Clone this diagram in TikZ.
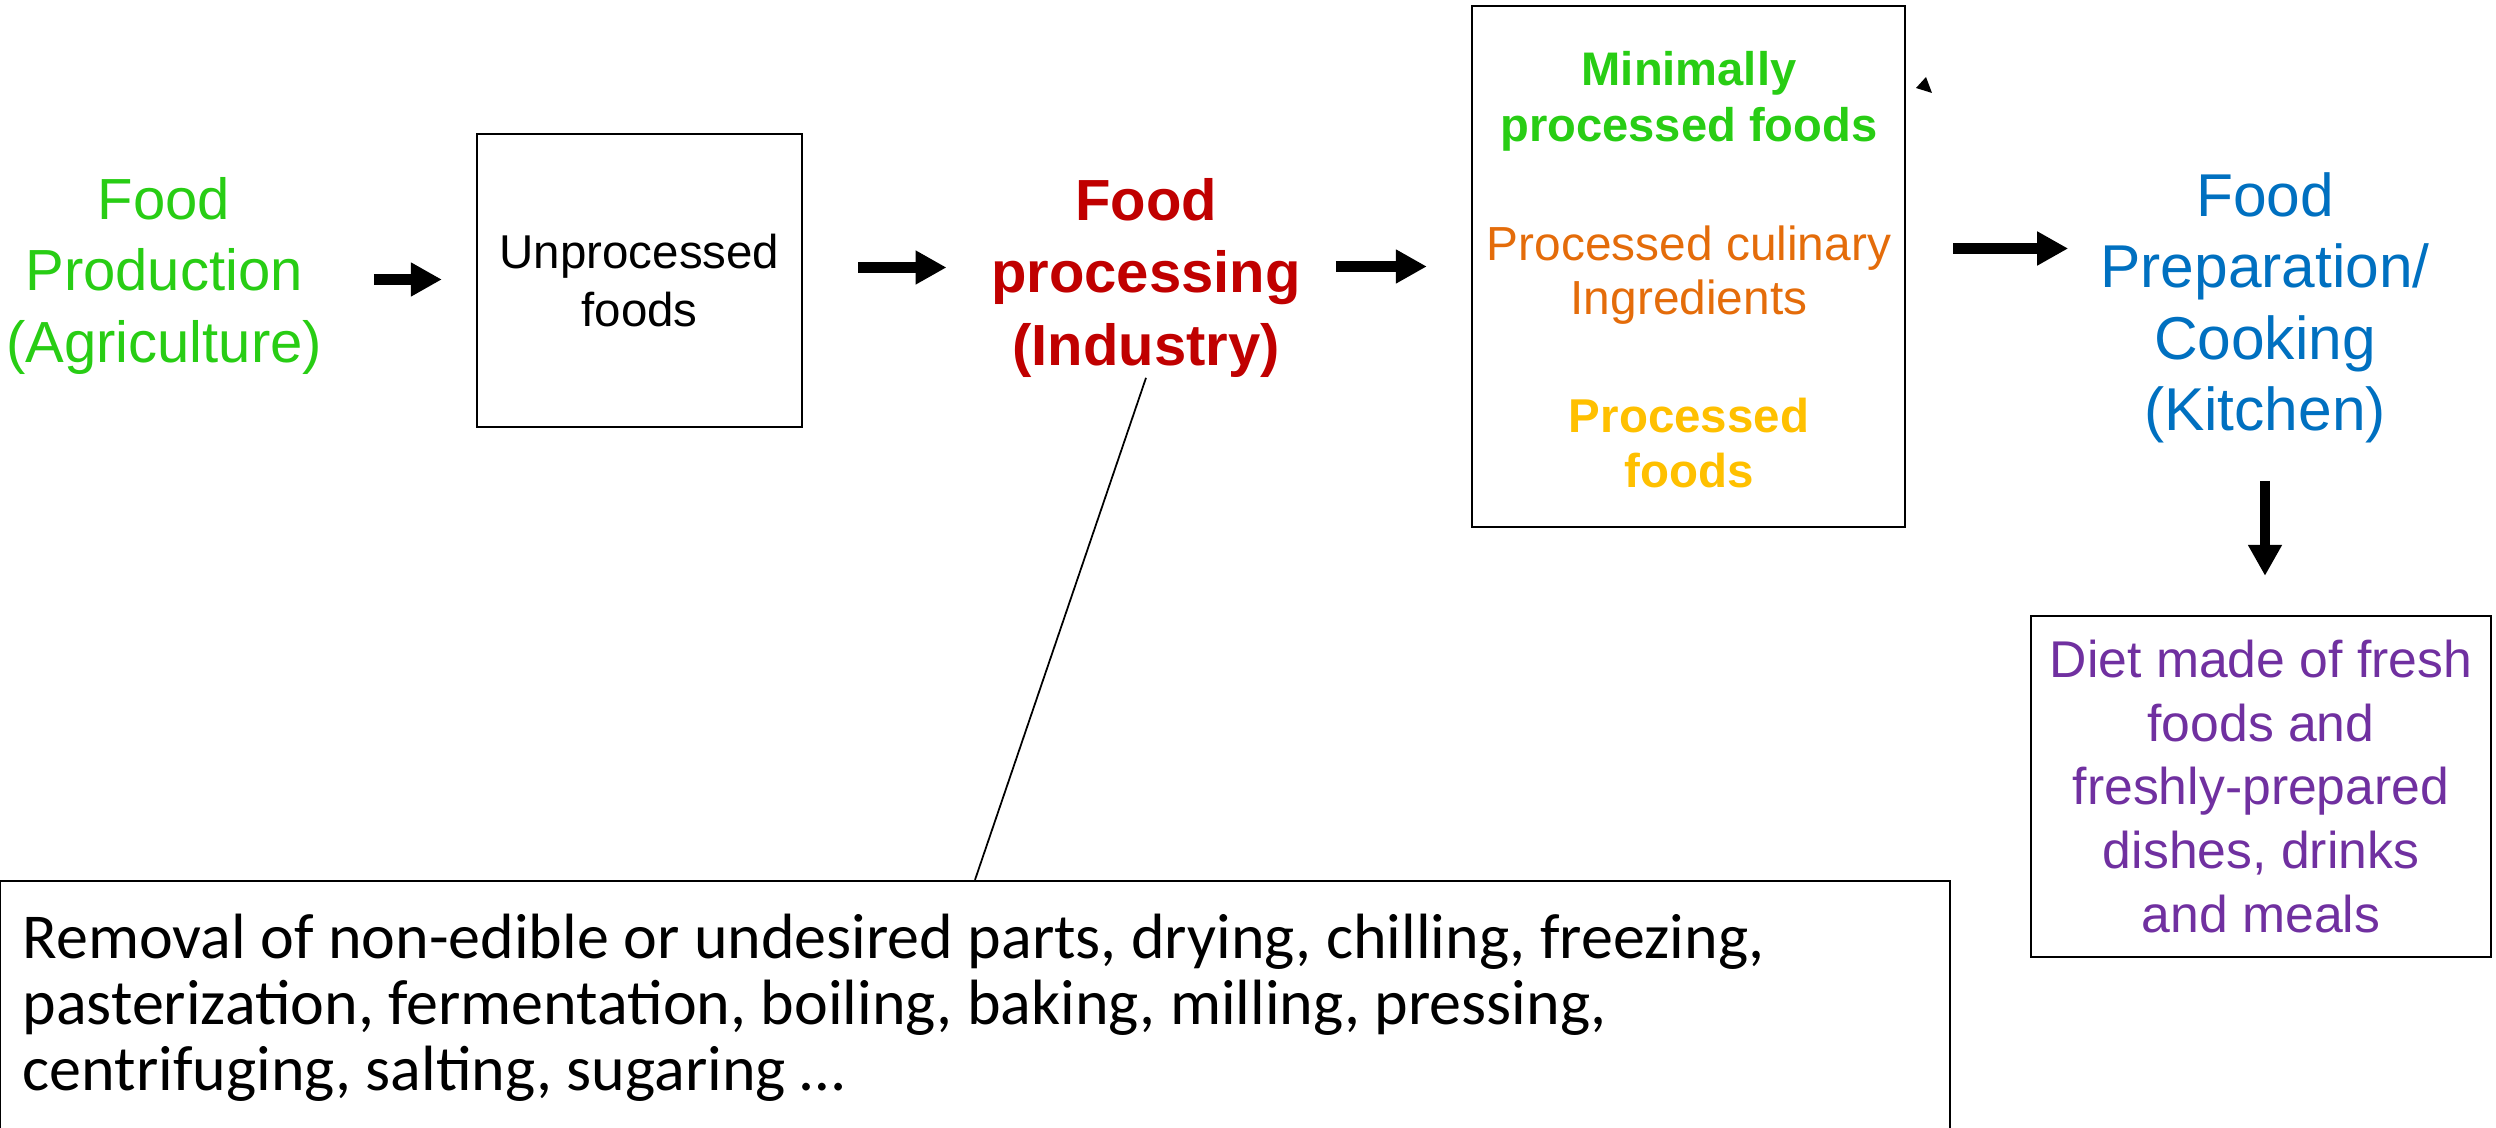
\documentclass[tikz,border=0pt]{standalone}
\usepackage{fontspec}
\setmainfont{Liberation Sans}
\newfontfamily\calibri{Carlito}
\usetikzlibrary{arrows.meta,calc}

\definecolor{agrigreen}{RGB}{40,205,20}
\definecolor{indred}{RGB}{192,0,0}
\definecolor{culorange}{RGB}{228,108,10}
\definecolor{procyellow}{RGB}{255,192,0}
\definecolor{kitblue}{RGB}{0,112,192}
\definecolor{dietpurple}{RGB}{112,48,160}

\tikzset{
  box/.style={draw, line width=0.6pt, inner sep=0pt},
  label/.style={align=center, inner sep=0pt},
  blockarrow/.style={line width=3.1pt, -{Triangle[length=3.1mm,width=3.2mm]}},
}

\begin{document}
\begin{tikzpicture}[x=0.01cm, y=-0.01cm]
    \useasboundingbox (0,0) rectangle (2496,1128);
    % Stages
    \node[label, agrigreen, font=\fontsize{16.5}{20.2}\selectfont] (agri) at (164,276)
      {Food\\Production\\(Agriculture)};
    \node[box, label, minimum width=3.25cm, minimum height=2.93cm,
      font=\fontsize{13.5}{16.4}\selectfont] (unproc) at (639.5,280.5) {Unprocessed\\foods};
    \node[label, indred, font=\bfseries\fontsize{16.5}{20.5}\selectfont] (fproc) at (1146,278)
      {Food\\processing\\(Industry)};
    \node[box, minimum width=4.33cm, minimum height=5.21cm] (outputs) at (1688.5,266.5) {};
    \node[label, agrigreen, font=\bfseries\fontsize{13.4}{15.9}\selectfont] (minproc) at (1689,101)
      {Minimally\\processed foods};
    \node[label, culorange, font=\fontsize{13.6}{15.4}\selectfont] (culinary) at (1689,275)
      {Processed culinary\\Ingredients};
    \node[label, procyellow, font=\bfseries\fontsize{13.5}{15.9}\selectfont] (processed) at (1689,443)
      {Processed\\foods};
    \node[label, kitblue, font=\fontsize{17.2}{20.3}\selectfont] (prep) at (2265,308)
      {Food\\Preparation/\\Cooking\\(Kitchen)};
    \node[box, label, text=dietpurple, minimum width=4.6cm, minimum height=3.41cm,
      font=\fontsize{14.7}{18.1}\selectfont] (diet) at (2261,786.5)
      {Diet made of fresh\\foods and\\freshly-prepared\\dishes, drinks\\and meals};
    % Processes
    \node[box, minimum width=19.485cm, minimum height=2.6cm] (steps) at (975,1011) {};
    \node[label, align=left, anchor=west, font=\calibri\fontsize{18.2}{18.8}\selectfont] (stepstext) at (22,1008)
      {Removal of non-edible or undesired parts, drying, chilling, freezing,\\
       pasterization, fermentation, boiling, baking, milling, pressing,\\
       centrifuging, salting, sugaring \dots};
    % Arrows
    \draw[blockarrow] ($(unproc.west)+(-102,-1)$) -- ($(unproc.west)+(-34,-1)$);
    \draw[blockarrow] ($(unproc.east)+(55,-13)$) -- ($(fproc.west |- unproc.east)+(-44,-13)$);
    \draw[blockarrow] ($(outputs.west)+(-135,0)$) -- ($(outputs.west)+(-44,0)$);
    \draw[blockarrow] ($(outputs.east)+(47,-18)$) -- ($(outputs.east)+(162,-18)$);
    \draw[blockarrow] ($(diet.north)+(4,-134)$) -- ($(diet.north)+(4,-39)$);
    \fill (1916,88) -- (1926,77) -- (1932,93) -- cycle;
    % Callout
    \draw[line width=0.5pt] (fproc.south) -- (steps.north);
\end{tikzpicture}
\end{document}
